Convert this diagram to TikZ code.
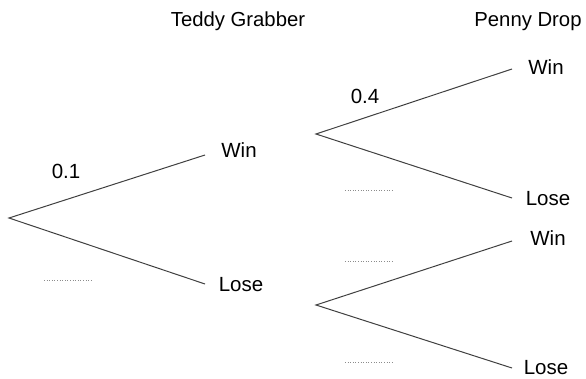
\documentclass[tikz,border=0pt]{standalone}
\usepackage{fontspec}
\setmainfont{Liberation Sans}
\begin{document}
\begin{tikzpicture}[x=1pt,y=-1pt,
  lbl/.style={anchor=base,inner sep=0pt,font=\fontsize{20.5}{21}\selectfont},
  ttl/.style={anchor=base,inner sep=0pt,font=\fontsize{20.3}{21}\selectfont},
  branch/.style={draw=black!75,line width=1pt},
  blank/.style={draw=black!45,dotted,line width=0.6pt}]
\useasboundingbox (0,0) rectangle (586,378);
% titles
\node[ttl] (t1) at (238,26) {Teddy Grabber};
\node[ttl] (t2) at (528,26) {Penny Drop};
% tree points
\coordinate (r) at (9,218);
\coordinate (w1) at (205,155);
\coordinate (l1) at (205,284);
\coordinate (s1) at (316,134);
\coordinate (s2) at (316,305);
\coordinate (ww) at (512,69);
\coordinate (wl) at (512,198);
\coordinate (lw) at (512,241);
\coordinate (ll) at (512,368);
\draw[branch] (w1) -- (r) -- (l1);
\draw[branch] (ww) -- (s1) -- (wl);
\draw[branch] (lw) -- (s2) -- (ll);
% labels
\node[lbl] (nw1) at (239,157) {Win};
\node[lbl] (nl1) at (241,291) {Lose};
\node[lbl] (nww) at (546,74) {Win};
\node[lbl] (nwl) at (548,205) {Lose};
\node[lbl] (nlw) at (548,245) {Win};
\node[lbl] (nll) at (546,374) {Lose};
\node[lbl] (p1) at (66,178) {0.1};
\node[lbl] (p2) at (365,103) {0.4};
% blanks
\coordinate (b1a) at (44,280); \coordinate (b1b) at (91,280);
\coordinate (b2a) at (345,190); \coordinate (b2b) at (393,190);
\coordinate (b3a) at (345,261); \coordinate (b3b) at (393,261);
\coordinate (b4a) at (345,362); \coordinate (b4b) at (393,362);
\draw[blank] (b1a) -- (b1b);
\draw[blank] (b2a) -- (b2b);
\draw[blank] (b3a) -- (b3b);
\draw[blank] (b4a) -- (b4b);
\end{tikzpicture}
\end{document}
